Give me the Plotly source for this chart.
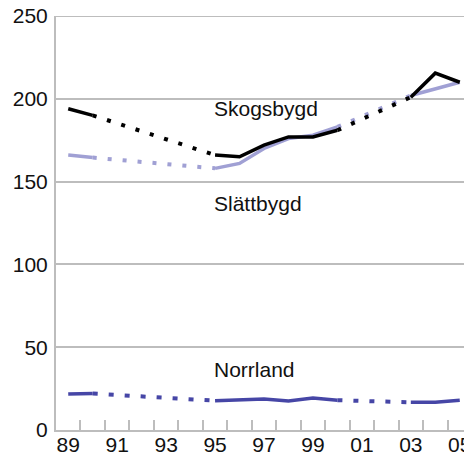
import plotly.graph_objects as go

years = list(range(1989, 2006))
tick_years = [1989, 1991, 1993, 1995, 1997, 1999, 2001, 2003, 2005]
tick_text = ["89", "91", "93", "95", "97", "99", "01", "03", "05"]
y_ticks = [0, 50, 100, 150, 200, 250]

skogsbygd = [194, 190, None, None, None, None, 166, 165, 172, 177, 177, 181, None, None, 201, 215.5, 210]
slattbygd = [166, 164.5, None, None, None, None, 158, 161, 170, 176, 178, 183, None, None, 202, 206, 210]
norrland = [21.7, 22, None, None, None, None, 17.7, 18, 18.7, 17.5, 19.3, 18, None, None, 16.7, 16.7, 18]

labels = ["Skogsbygd", "Slättbygd", "Norrland"]
label_pos = [(1994.86, 194), (1994.86, 136.5), (1994.86, 36.5)]

FONT = "Liberation Sans, Arial, sans-serif"
GRID = "#bdbdbd"


def bridges(xs, vals):
    """Segments that span the missing years (drawn dotted)."""
    bx, by = [], []
    n = len(vals)
    i = 0
    while i < n:
        if vals[i] is None:
            j = i
            while j < n and vals[j] is None:
                j += 1
            p = i - 1
            if p >= 0 and j < n:
                bx += [xs[p], xs[j], None]
                by += [vals[p], vals[j], None]
            i = j
        else:
            i += 1
    return bx, by


series = [
    (slattbygd, "#a0a0d4", "4px,11px"),
    (skogsbygd, "#000000", "4px,11px"),
    (norrland, "#4646a6", "5px,11px"),
]

fig = go.Figure()
for vals, color, dash in series:
    bx, by = bridges(years, vals)
    fig.add_trace(go.Scatter(x=bx, y=by, mode="lines",
                             line=dict(color=color, width=4, dash=dash),
                             hoverinfo="skip", showlegend=False))
    fig.add_trace(go.Scatter(x=years, y=vals, mode="lines", connectgaps=False,
                             line=dict(color=color, width=3.5),
                             showlegend=False))

for text, (lx, ly) in zip(labels, label_pos):
    fig.add_annotation(x=lx, y=ly, text=text, showarrow=False,
                       xanchor="left", yanchor="middle",
                       font=dict(family=FONT, size=21, color="#111111"))

# top gridline (plotly drops gridlines that sit on the plot edge)
fig.add_shape(type="line", xref="paper", x0=0, x1=1, yref="y", y0=y_ticks[-1], y1=y_ticks[-1],
              line=dict(color=GRID, width=2), layer="below")

# page body has an 8px margin, so the figure is sized to fill the rest of the window
fig.update_layout(
    width=464, height=446,
    margin=dict(l=48, r=0, t=8, b=24),
    plot_bgcolor="white", paper_bgcolor="white",
    font=dict(family=FONT, size=21, color="#111111"),
    showlegend=False,
)
fig.update_xaxes(
    range=[1988.5, 2005.5], tickmode="array", tickvals=tick_years, ticktext=tick_text,
    ticks="", showgrid=False, zeroline=False, automargin=False,
    showline=True, linecolor=GRID, linewidth=2,
    ticklabelstandoff=-5, ticklabeloverflow="allow",
    tickfont=dict(family=FONT, size=21, color="#111111"),
    minor=dict(tickmode="array", tickvals=[y + 0.5 for y in years[:-1]],
               ticks="inside", ticklen=10, tickwidth=2, tickcolor=GRID, showgrid=False),
)
fig.update_yaxes(
    range=[0, 250], tickmode="array", tickvals=y_ticks,
    ticks="", showgrid=True, gridcolor=GRID, gridwidth=2, zeroline=False,
    showline=True, linecolor=GRID, linewidth=2, automargin=False,
    ticklabelstandoff=2, ticklabeloverflow="allow",
    tickfont=dict(family=FONT, size=21, color="#111111"),
)

fig.write_html("out.html")
